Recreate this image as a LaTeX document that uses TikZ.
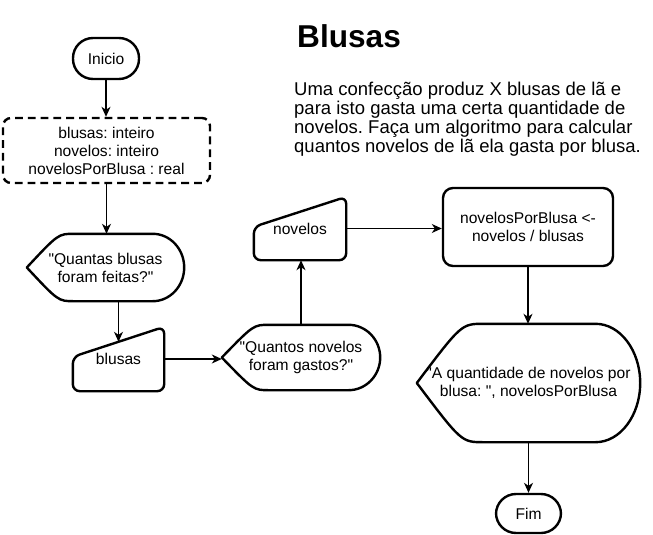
\documentclass[tikz,border=0pt]{standalone}
\usepackage{fontspec}
\setmainfont{Liberation Sans}
\usetikzlibrary{arrows.meta,calc}
\frenchspacing
\newcommand{\nodefont}{\fontsize{15.6}{18}\selectfont}
\newcommand{\aspas}{\textquotedbl}
\tikzset{
    box/.style={draw, line width=2.4pt, align=center, font=\nodefont, inner sep=0pt},
    term/.style={box, rounded corners=20pt, minimum width=66pt, minimum height=41pt},
    txt/.style={align=center, font=\nodefont, inner sep=0pt},
    shapeline/.style={line width=2.4pt, line join=round},
    flow/.style={line width=1.3pt, -{Stealth[length=10pt, width=9pt, inset=3pt]}},
}
\NewDocumentCommand{\drawinput}{m m}{
    \draw[shapeline, rounded corners=7pt] (#1.south) -- (#1.south west) -- ([yshift=-#2]#1.north west) -- (#1.north east) -- (#1.south east) -- cycle;
    \coordinate (#1-top) at ($(#1.north east)!.5!([yshift=-#2]#1.north west)$);
}
\NewDocumentCommand{\drawdisplay}{m}{
    \draw[shapeline] ($(#1.north west)!.5!(#1.north east)$)
        -- ($(#1.north west)!.8!(#1.north east)$)
        .. controls ($(#1.north west)!.91!(#1.north east)$) and ($(#1.east)!.55!(#1.north east)$) .. (#1.east)
        .. controls ($(#1.east)!.55!(#1.south east)$) and ($(#1.south west)!.91!(#1.south east)$) .. ($(#1.south west)!.8!(#1.south east)$)
        -- ($(#1.south west)!.3!(#1.south east)$)
        .. controls ($(#1.south west)!.2!(#1.south east)$) .. (#1.west)
        .. controls ($(#1.north west)!.2!(#1.north east)$) .. ($(#1.north west)!.3!(#1.north east)$)
        -- cycle;
}
\begin{document}
\begin{tikzpicture}[x=1pt, y=-1pt]
    \useasboundingbox (0,0) rectangle (653,535);

    % titulo e enunciado
    \node[anchor=base west, font=\fontsize{31.6}{36}\selectfont\bfseries, inner sep=0pt] (titulo) at (297,48) {Blusas};
    \node[anchor=north west, align=left, font=\fontsize{18.5}{19}\selectfont, inner sep=0pt] (enunciado) at (294,82)
        {Uma confecção produz X blusas de lã e\\para isto gasta uma certa quantidade de\\novelos. Faça um algoritmo para calcular\\quantos novelos de lã ela gasta por blusa.};

    % fluxograma
    \node[term] (ini) at (106,58.5) {Inicio};
    \node[box, dash pattern=on 7.8pt off 5pt, rounded corners=8pt, minimum width=207pt, minimum height=65pt] (decl) at (106.5,150.5)
        {blusas: inteiro\\novelos: inteiro\\novelosPorBlusa : real};

    \node[txt, minimum width=157pt, minimum height=67pt] (q1) at (105.5,267.5) {\aspas Quantas blusas\\foram feitas?\aspas};
    \drawdisplay{q1}

    \node[txt, minimum width=91pt, minimum height=64pt] (blusas) at (118.5,359) {blusas};
    \drawinput{blusas}{30}

    \node[txt, minimum width=158pt, minimum height=65pt] (q2) at (301,357.5) {\aspas Quantos novelos\\foram gastos?\aspas};
    \drawdisplay{q2}

    \node[txt, minimum width=92pt, minimum height=63pt] (novelos) at (300,228.5) {novelos};
    \drawinput{novelos}{30}

    \node[box, rounded corners=10pt, minimum width=170pt, minimum height=78pt] (calc) at (528,227)
        {novelosPorBlusa <-\\novelos / blusas};

    \node[txt, minimum width=223pt, minimum height=118pt] (res) at (528.5,383)
        {\aspas A quantidade de novelos por\\blusa: \aspas, novelosPorBlusa};
    \drawdisplay{res}

    \node[term, minimum width=65pt, minimum height=39pt] (fim) at (528.5,513.5) {Fim};

    % setas
    \draw[flow] (ini.south) -- (ini.south |- decl.north);
    \draw[flow] (decl.south) -- (decl.south |- q1.north);
    \draw[flow] (blusas-top |- q1.south) -- (blusas-top);
    \draw[flow] (blusas.east) -- (blusas.east -| q2.west);
    \draw[flow] (q2.north) -- (q2.north |- novelos.south);
    \draw[flow] (novelos.east) -- (novelos.east -| calc.west);
    \draw[flow] (calc.south) -- (calc.south |- res.north);
    \draw[flow] (res.south) -- (res.south |- fim.north);
\end{tikzpicture}
\end{document}
